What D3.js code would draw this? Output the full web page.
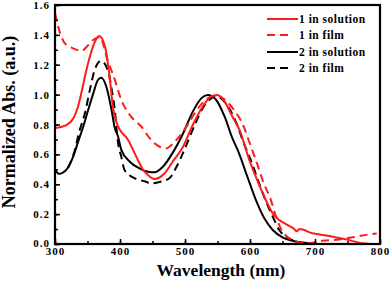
<!DOCTYPE html>
<html>
<head>
<meta charset="utf-8">
<script src="https://cdn.jsdelivr.net/npm/d3@7"></script>
<style>
  body { margin: 0; background: #fff; }
  svg { display: block; }
  .tick-label { font-family: "Liberation Serif", "Times New Roman", serif; font-weight: bold; font-size: 11px; letter-spacing: 1px; }
  .axis-title { font-family: "Liberation Serif", "Times New Roman", serif; font-weight: bold; }
  .legend text { font-family: "Liberation Serif", "Times New Roman", serif; font-weight: bold; font-size: 11.5px; letter-spacing: 0.5px; }
</style>
</head>
<body>
<div id="chart"></div>
<script>
// wavelength (nm) / normalized absorbance
var sol1_x = [300, 318, 328, 334, 340, 347, 354, 360, 368, 377, 384, 389, 395, 400, 412, 425, 435, 443, 453, 469, 481, 497, 512, 527, 540, 550, 561, 573, 584, 599, 609, 622, 635, 645, 658, 668, 672, 676, 696, 722, 747, 773, 785];
var sol1_y = [0.776, 0.797, 0.84, 0.90, 1.0, 1.14, 1.26, 1.34, 1.392, 1.32, 1.12, 0.92, 0.81, 0.763, 0.70, 0.585, 0.50, 0.462, 0.435, 0.475, 0.551, 0.651, 0.797, 0.919, 0.986, 0.997, 0.953, 0.852, 0.763, 0.562, 0.45, 0.317, 0.205, 0.16, 0.127, 0.10, 0.085, 0.10, 0.072, 0.054, 0.031, 0.005, 0.0];

var film1_x = [300, 308, 315, 328, 341, 351, 360, 369, 381, 392, 402, 415, 433, 446, 461, 471, 484, 497, 510, 522, 535, 548, 563, 575, 590, 600, 610, 620, 632, 640, 650, 660, 676, 690, 711, 737, 758, 788, 795];
var film1_y = [1.545, 1.41, 1.345, 1.31, 1.294, 1.33, 1.37, 1.385, 1.23, 1.10, 0.964, 0.864, 0.785, 0.707, 0.651, 0.64, 0.685, 0.752, 0.841, 0.919, 0.975, 0.997, 0.96, 0.90, 0.79, 0.67, 0.55, 0.42, 0.295, 0.183, 0.083, 0.04, 0.01, 0.005, 0.022, 0.03, 0.045, 0.067, 0.07];

var sol2_x = [300, 306, 318, 328, 336, 343, 351, 359, 366, 371, 379, 387, 392, 397, 402, 415, 430, 443, 453, 466, 481, 497, 512, 525, 535, 548, 561, 573, 581, 596, 609, 622, 635, 650, 665, 681, 700];
var sol2_y = [0.50, 0.47, 0.50, 0.585, 0.69, 0.78, 0.897, 1.01, 1.098, 1.113, 1.053, 0.897, 0.776, 0.72, 0.63, 0.551, 0.507, 0.484, 0.48, 0.517, 0.61, 0.74, 0.886, 0.975, 0.997, 0.964, 0.852, 0.707, 0.63, 0.45, 0.295, 0.172, 0.094, 0.045, 0.022, 0.01, 0.0];

var film2_x = [320, 330, 338, 343, 346, 354, 361, 371, 382, 387, 392, 397, 402, 407, 425, 440, 446, 461, 476, 487, 499, 515, 527, 540, 548, 563, 579, 590, 604, 614, 627, 635, 645, 660, 676, 695];
var film2_y = [0.51, 0.62, 0.763, 0.83, 0.875, 1.04, 1.165, 1.227, 1.153, 1.04, 0.897, 0.675, 0.585, 0.495, 0.435, 0.417, 0.406, 0.415, 0.44, 0.517, 0.63, 0.797, 0.908, 0.975, 0.99, 0.94, 0.81, 0.68, 0.53, 0.406, 0.261, 0.183, 0.094, 0.038, 0.01, 0.0];

var seriesNames = ["1 in solution", "1 in film", "2 in solution", "2 in film"];
var seriesColors = ["#ff1a1a", "#ff1a1a", "#000000", "#000000"];
var seriesDashed = [false, true, false, true];

var xTicks = [300, 400, 500, 600, 700, 800];
var yTicks = [0.0, 0.2, 0.4, 0.6, 0.8, 1.0, 1.2, 1.4, 1.6];

var width = 392, height = 289;
var margin = { left: 55, right: 12, top: 5, bottom: 45 };

var svg = d3.select("#chart").append("svg")
    .attr("width", width)
    .attr("height", height);

var xScale = d3.scaleLinear()
    .domain([300, 800])
    .range([margin.left, width - margin.right]);

var yScale = d3.scaleLinear()
    .domain([0, 1.6])
    .range([height - margin.bottom, margin.top]);

var series = [
    { x: sol1_x, y: sol1_y },
    { x: film1_x, y: film1_y },
    { x: sol2_x, y: sol2_y },
    { x: film2_x, y: film2_y }
];

svg.append("clipPath").attr("id", "plotClip")
    .append("rect")
    .attr("x", xScale(300))
    .attr("y", yScale(1.6))
    .attr("width", xScale(800) - xScale(300))
    .attr("height", yScale(0) - yScale(1.6));

var line = d3.line()
    .x(function (d) { return xScale(d[0]); })
    .y(function (d) { return yScale(d[1]); })
    .curve(d3.curveMonotoneX);

var plot = svg.append("g").attr("clip-path", "url(#plotClip)");

// draw black ones first so red sits on top
[3, 2, 1, 0].forEach(function (k) {
    var pts = series[k].x.map(function (v, i) { return [v, series[k].y[i]]; });
    plot.append("path")
        .datum(pts)
        .attr("fill", "none")
        .attr("stroke", seriesColors[k])
        .attr("stroke-width", 2)
        .attr("stroke-dasharray", seriesDashed[k] ? "8,5" : null)
        .attr("d", line);
});

// x axis ticks (inside)
var xMinor = d3.range(300, 801, 50);
svg.append("g")
    .attr("transform", "translate(0," + yScale(0) + ")")
    .call(d3.axisBottom(xScale).tickValues(xMinor).tickSize(-3).tickFormat(""))
    .call(function (g) { g.select(".domain").remove(); })
    .selectAll("line").attr("stroke-width", 1.5);

svg.append("g")
    .attr("transform", "translate(0," + yScale(0) + ")")
    .call(d3.axisBottom(xScale).tickValues(xTicks).tickSize(-5).tickPadding(0).tickFormat(d3.format("d")))
    .call(function (g) {
        g.select(".domain").remove();
        g.selectAll("line").attr("stroke-width", 1.5);
        g.selectAll("text").attr("class", "tick-label").attr("fill", "#000")
            .attr("y", 3.5).attr("dy", "0.71em");
    });

// y axis ticks (inside)
var yMinor = d3.range(0, 1.61, 0.1);
svg.append("g")
    .attr("transform", "translate(" + xScale(300) + ",0)")
    .call(d3.axisLeft(yScale).tickValues(yMinor).tickSize(-3).tickFormat(""))
    .call(function (g) { g.select(".domain").remove(); })
    .selectAll("line").attr("stroke-width", 1.5);

svg.append("g")
    .attr("transform", "translate(" + xScale(300) + ",0)")
    .call(d3.axisLeft(yScale).tickValues(yTicks).tickSize(-5).tickPadding(5).tickFormat(d3.format(".1f")))
    .call(function (g) {
        g.select(".domain").remove();
        g.selectAll("line").attr("stroke-width", 1.5);
        g.selectAll("text").attr("class", "tick-label").attr("fill", "#000")
            .attr("text-anchor", "end");
        g.selectAll("text").filter(function (d) { return d === 0; }).attr("dy", "0.2em");
    });

// frame
svg.append("rect")
    .attr("x", xScale(300))
    .attr("y", yScale(1.6))
    .attr("width", xScale(800) - xScale(300))
    .attr("height", yScale(0) - yScale(1.6))
    .attr("fill", "none")
    .attr("stroke", "#000")
    .attr("stroke-width", 2.2);

// axis titles
svg.append("text")
    .attr("class", "axis-title")
    .attr("x", 221)
    .attr("y", 276)
    .attr("text-anchor", "middle")
    .attr("font-size", "17.5px")
    .text("Wavelength (nm)");

svg.append("text")
    .attr("class", "axis-title")
    .attr("transform", "translate(15," + 122 + ") rotate(-90)")
    .attr("text-anchor", "middle")
    .attr("font-size", "18px")
    .text("Normalized Abs. (a.u.)");

// legend
var legend = svg.append("g").attr("class", "legend");
var legendY = [19, 35, 52, 68];
seriesNames.forEach(function (name, k) {
    legend.append("line")
        .attr("x1", 267)
        .attr("x2", seriesDashed[k] ? 289 : 298)
        .attr("y1", legendY[k])
        .attr("y2", legendY[k])
        .attr("stroke", seriesColors[k])
        .attr("stroke-width", 2)
        .attr("stroke-dasharray", seriesDashed[k] ? "8,5" : null);
    legend.append("text")
        .attr("x", 299)
        .attr("y", legendY[k] + 4)
        .text(name);
});
</script>
</body>
</html>
